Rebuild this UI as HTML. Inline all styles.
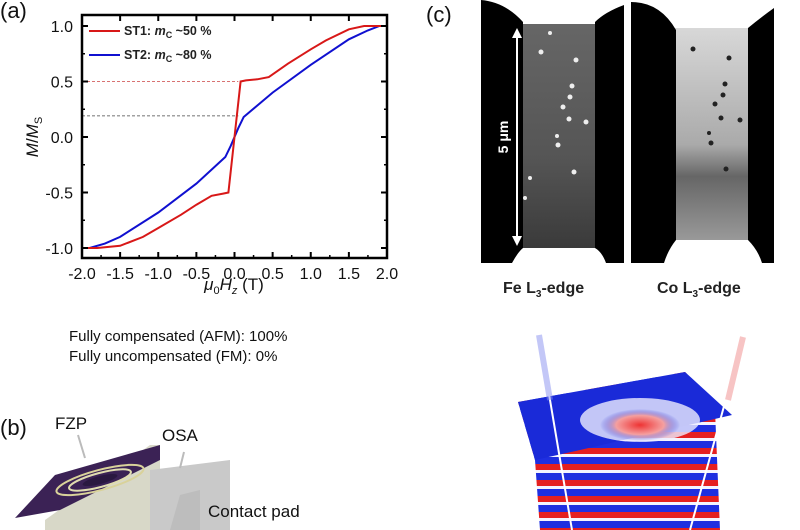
<!DOCTYPE html>
<html><head><meta charset="utf-8">
<style>
body{margin:0;width:800px;height:530px;background:#fff;overflow:hidden;position:relative;font-family:"Liberation Sans",sans-serif}
.t{position:absolute;color:#111;white-space:nowrap}
</style></head><body>
<div class="t" style="left:0;top:-2px;font-size:22px">(a)</div>
<div class="t" style="left:0;top:415px;font-size:22px">(b)</div>
<div class="t" style="left:426px;top:2px;font-size:22px">(c)</div>

<svg id="chart" width="420" height="300" style="position:absolute;left:0;top:0" font-family="Liberation Sans, sans-serif"></svg>

<div class="t" style="left:69px;top:328px;font-size:15px">Fully compensated (AFM): 100%</div>
<div class="t" style="left:69px;top:348px;font-size:15px">Fully uncompensated (FM): 0%</div>

<svg width="420" height="130" style="position:absolute;left:0;top:400px">
  <polygon points="45,120 150,45 160,45 160,130 45,130" fill="#d8d8c8"/>
  <polygon points="150,70 230,60 230,130 150,130" fill="#c9c9c9"/>
  <polygon points="180,95 200,90 200,130 170,130" fill="#bdbdbd"/>
  <polygon points="15,118 55,75 160,45 160,60 120,80 60,110" fill="#3b2255"/>
  <ellipse cx="100" cy="80" rx="45" ry="10" transform="rotate(-15 100 80)" fill="none" stroke="#d9d29a" stroke-width="2"/>
  <ellipse cx="100" cy="80" rx="32" ry="7" transform="rotate(-15 100 80)" fill="none" stroke="#e0dcb0" stroke-width="2"/>
  <ellipse cx="100" cy="80" rx="18" ry="4" transform="rotate(-15 100 80)" fill="#2a1840"/>
  <line x1="78" y1="35" x2="85" y2="58" stroke="#bbb" stroke-width="2"/>
  <line x1="184" y1="52" x2="180" y2="68" stroke="#bbb" stroke-width="2"/>
</svg>
<div class="t" style="left:55px;top:414px;font-size:17px">FZP</div>
<div class="t" style="left:162px;top:426px;font-size:17px">OSA</div>
<div class="t" style="left:208px;top:502px;font-size:17px">Contact pad</div>

<svg width="380" height="270" style="position:absolute;left:420px;top:0">
  <defs>
    <linearGradient id="gfe" x1="0" y1="0" x2="0" y2="1"><stop offset="0" stop-color="#666"/><stop offset="0.6" stop-color="#555"/><stop offset="1" stop-color="#3a3a3a"/></linearGradient>
    <linearGradient id="gco" x1="0" y1="0" x2="0" y2="1"><stop offset="0" stop-color="#d8d8d8"/><stop offset="0.55" stop-color="#aaa"/><stop offset="0.7" stop-color="#666"/><stop offset="1" stop-color="#999"/></linearGradient>
  </defs>
  <rect x="100" y="24" width="78" height="224" fill="url(#gfe)"/>
  <path d="M61,0 Q85,2 103,22 L103,248 Q98,252 92,263 L61,263 Z" fill="#000"/>
  <path d="M204,5 Q185,12 175,22 L175,248 Q182,252 186,263 L204,263 Z" fill="#000"/>
  <g fill="#eee">
    <circle cx="130" cy="33" r="2"/><circle cx="121" cy="52" r="2.5"/><circle cx="156" cy="60" r="2.5"/><circle cx="152" cy="86" r="2.5"/><circle cx="150" cy="97" r="2.5"/><circle cx="143" cy="107" r="2.5"/><circle cx="149" cy="119" r="2.5"/><circle cx="166" cy="122" r="2.5"/><circle cx="137" cy="136" r="2"/><circle cx="138" cy="145" r="2.5"/><circle cx="154" cy="172" r="2.5"/><circle cx="110" cy="178" r="2"/><circle cx="105" cy="198" r="2"/>
  </g>
  <line x1="97" y1="34" x2="97" y2="240" stroke="#fff" stroke-width="2"/>
  <polygon points="97,28 92,38 102,38" fill="#fff"/><polygon points="97,246 92,236 102,236" fill="#fff"/>
  <text x="88" y="137" transform="rotate(-90 88 137)" fill="#fff" font-size="14" font-weight="bold" text-anchor="middle">5 μm</text>
  <rect x="252" y="28" width="80" height="212" fill="url(#gco)"/>
  <path d="M211,2 Q240,2 256,30 L256,240 Q248,250 244,263 L211,263 Z" fill="#000"/>
  <path d="M354,8 Q340,18 328,28 L328,240 Q338,250 342,263 L354,263 Z" fill="#000"/>
  <g fill="#222">
    <circle cx="273" cy="49" r="2.5"/><circle cx="309" cy="58" r="2.5"/><circle cx="305" cy="84" r="2.5"/><circle cx="303" cy="95" r="2.5"/><circle cx="295" cy="104" r="2.5"/><circle cx="301" cy="118" r="2.5"/><circle cx="320" cy="120" r="2.5"/><circle cx="289" cy="133" r="2"/><circle cx="291" cy="143" r="2.5"/><circle cx="306" cy="169" r="2.5"/>
  </g>
</svg>
<div class="t" style="left:503px;top:280px;font-size:16px;font-weight:bold;color:#222">Fe L<sub style="font-size:10px">3</sub>-edge</div>
<div class="t" style="left:657px;top:280px;font-size:16px;font-weight:bold;color:#222">Co L<sub style="font-size:10px">3</sub>-edge</div>

<svg width="340" height="210" style="position:absolute;left:460px;top:320px">
  <defs>
    <radialGradient id="core" cx="0.5" cy="0.5" r="0.5"><stop offset="0" stop-color="#e33"/><stop offset="0.6" stop-color="#f5a0a0"/><stop offset="1" stop-color="#3040e0" stop-opacity="0"/></radialGradient>
    <pattern id="stp" width="340" height="16" patternUnits="userSpaceOnUse"><rect width="340" height="6" fill="#e52020"/><rect y="6" width="340" height="3" fill="#f4f4ff"/><rect y="9" width="340" height="7" fill="#1f2fe0"/></pattern>
  </defs>
  <polygon points="58,82 225,52 270,95 255,90 260,210 80,210 75,140" fill="url(#stp)"/>
  <polygon points="58,82 225,52 272,95 120,130 75,140" fill="#1a2ad8"/>
  <ellipse cx="180" cy="100" rx="60" ry="22" fill="#eef" opacity="0.8"/>
  <ellipse cx="180" cy="105" rx="40" ry="16" fill="url(#core)"/>
  <line x1="79" y1="15" x2="112" y2="210" stroke="#fff" stroke-width="2"/>
  <line x1="79" y1="15" x2="90" y2="80" stroke="#8890f0" stroke-width="6" opacity="0.5"/>
  <line x1="283" y1="17" x2="230" y2="210" stroke="#fff" stroke-width="2"/>
  <line x1="283" y1="17" x2="268" y2="80" stroke="#f08a8a" stroke-width="6" opacity="0.5"/>
</svg>

<script>
const xTicks=[-2.0,-1.5,-1.0,-0.5,0.0,0.5,1.0,1.5,2.0];
const yTicks=[-1.0,-0.5,0.0,0.5,1.0];
const st1X=[-2.0,-1.8,-1.5,-1.2,-1.0,-0.7,-0.5,-0.3,-0.15,-0.08,0.08,0.15,0.3,0.45,0.7,1.0,1.2,1.5,1.7,2.0];
const st1Y=[-1.0,-1.0,-0.98,-0.9,-0.82,-0.7,-0.61,-0.53,-0.51,-0.5,0.5,0.51,0.52,0.54,0.66,0.79,0.87,0.97,1.0,1.0];
const st2X=[-2.0,-1.9,-1.7,-1.5,-1.0,-0.5,-0.12,-0.05,0.0,0.05,0.12,0.5,1.0,1.5,1.75,1.9,2.0];
const st2Y=[-1.0,-1.0,-0.96,-0.9,-0.68,-0.42,-0.18,-0.08,0.0,0.08,0.18,0.4,0.65,0.88,0.96,1.0,1.0];
const guideY=[0.5,0.19];
const X0=82,X1=387,YT=15,YB=258;
const sx=v=>X0+(v+2)/4*(X1-X0);
const sy=v=>137-v*111;
const svg=document.getElementById('chart');
const NS='http://www.w3.org/2000/svg';
function mk(tag,attrs,parent){const e=document.createElementNS(NS,tag);for(const k in attrs)e.setAttribute(k,attrs[k]);(parent||svg).appendChild(e);return e;}
guideY.forEach((g,i)=>{const l=mk('line',{x1:X0,x2:sx(0.05),y1:sy(g),y2:sy(g),stroke:i?'#444':'#c44','stroke-width':0.8,'stroke-dasharray':'3,2'});

});
function series(xs,ys,c,name){const d=xs.map((x,i)=>(i?'L':'M')+sx(x).toFixed(1)+','+sy(ys[i]).toFixed(1)).join('');
const p=mk('path',{d:d,fill:'none',stroke:c,'stroke-width':2});

}
series(st2X,st2Y,'#1010d0','series-st2');
series(st1X,st1Y,'#d81818','series-st1');
const fr=mk('rect',{x:X0,y:YT,width:X1-X0,height:YB-YT,fill:'none',stroke:'#000','stroke-width':2.5});


xTicks.forEach(v=>{const x=sx(v);mk('line',{x1:x,x2:x,y1:YB,y2:YB-6,stroke:'#000','stroke-width':2});mk('line',{x1:x,x2:x,y1:YT,y2:YT+6,stroke:'#000','stroke-width':2});
const t=mk('text',{x:x,y:YB+21,'font-size':16,'text-anchor':'middle',fill:'#111'});t.textContent=v.toFixed(1);

});
for(let v=-1.75;v<2;v+=0.5){mk('line',{x1:sx(v),x2:sx(v),y1:YB,y2:YB-3,stroke:'#000','stroke-width':1.5});}
yTicks.forEach(v=>{const y=sy(v);mk('line',{x1:X0,x2:X0+6,y1:y,y2:y,stroke:'#000','stroke-width':2});mk('line',{x1:X1,x2:X1-6,y1:y,y2:y,stroke:'#000','stroke-width':2});
const t=mk('text',{x:X0-9,y:y+6,'font-size':16,'text-anchor':'end',fill:'#111'});t.textContent=v.toFixed(1);

});
for(let v=-0.75;v<1;v+=0.5){const y=sy(v);mk('line',{x1:X0,x2:X0+3,y1:y,y2:y,stroke:'#000','stroke-width':1.5});mk('line',{x1:X1,x2:X1-3,y1:y,y2:y,stroke:'#000','stroke-width':1.5});}
const yl=mk('text',{x:38,y:137,'font-size':17,'text-anchor':'middle',transform:'rotate(-90 38 137)',fill:'#111'});
yl.innerHTML='<tspan font-style="italic">M</tspan>/<tspan font-style="italic">M</tspan><tspan font-size="11" dy="4">S</tspan>';


const xl=mk('text',{x:234,y:290,'font-size':17,'text-anchor':'middle',fill:'#111'});
xl.innerHTML='<tspan font-style="italic">μ</tspan><tspan font-size="11" dy="4">0</tspan><tspan font-style="italic" dy="-4">H</tspan><tspan font-size="11" dy="4" font-style="italic">z</tspan><tspan dy="-4"> (T)</tspan>';


[['#d81818','ST1: ','~50 %',31],['#1010d0','ST2: ','~80 %',55]].forEach(([c,a,b,y],i)=>{
const l=mk('line',{x1:89,x2:120,y1:y,y2:y,stroke:c,'stroke-width':2});


const t=mk('text',{x:124,y:y+4,'font-size':12.5,'font-weight':'bold',fill:'#222'});
t.innerHTML=a+'<tspan font-style="italic">m</tspan><tspan font-size="9" dy="3">C</tspan><tspan dy="-3"> '+b+'</tspan>';

});
</script>
</body></html>
